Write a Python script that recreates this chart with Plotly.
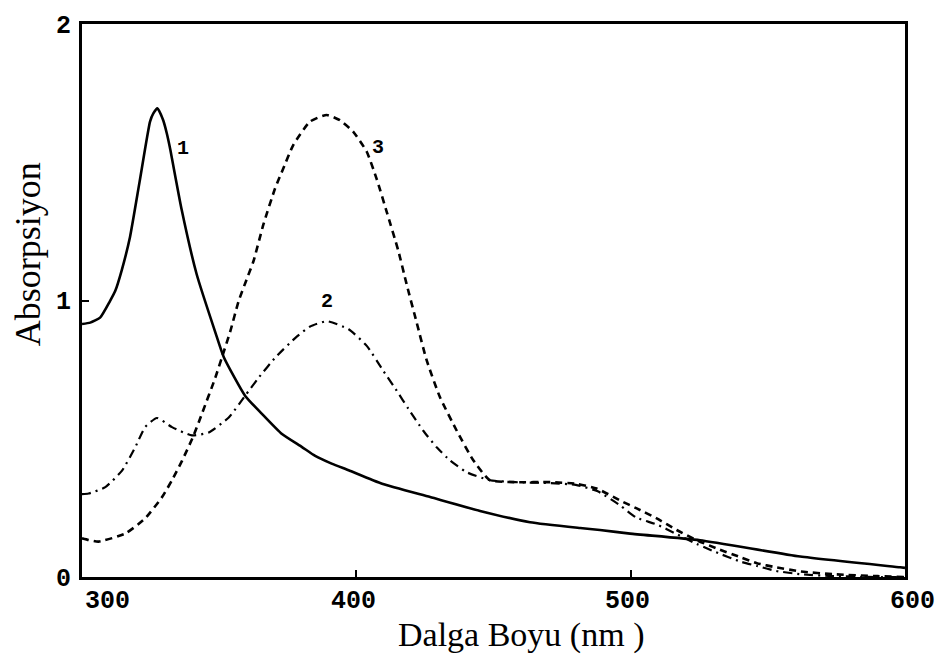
import plotly.graph_objects as go

# Curve 1 (solid)
wl1 = [300, 303, 306.6, 310.2, 312.1, 314.5, 317.5, 321, 324.8, 326, 327.5, 329.6, 330.9, 332,
       336.3, 341.8, 348.6, 351.7, 359.5, 365.6, 372.9, 380.2, 385, 391, 397.2, 409.4, 426.9,
       445.1, 463.3, 481.6, 488.8, 499.8, 525.3, 561.8, 598.2, 600]
ab1 = [0.915, 0.92, 0.938, 0.998, 1.034, 1.11, 1.23, 1.43, 1.647, 1.677, 1.695, 1.652, 1.605, 1.555,
       1.33, 1.095, 0.885, 0.795, 0.655, 0.59, 0.517, 0.47, 0.438, 0.41, 0.386, 0.337, 0.289,
       0.239, 0.198, 0.177, 0.17, 0.157, 0.133, 0.074, 0.035, 0.033]

# Curve 2 (dash-dot)
wl2 = [300, 302.4, 308.5, 314.6, 319.4, 323, 327.3, 332.8, 340.1, 346.2, 353.5, 359.5, 364.4,
       370.5, 377.8, 383, 389.3, 397.2, 403.8, 409.8, 414.7, 419, 424.4, 429.3, 434.2, 440.2,
       448.7, 458, 470, 480, 488, 496, 502, 509.5, 516.8, 524, 531, 540, 546, 553, 562, 574, 590, 600]
ab2 = [0.30, 0.302, 0.325, 0.385, 0.469, 0.542, 0.575, 0.542, 0.512, 0.523, 0.577, 0.656, 0.721,
       0.794, 0.865, 0.905, 0.925, 0.896, 0.836, 0.746, 0.674, 0.608, 0.529, 0.469, 0.421, 0.379,
       0.35, 0.343, 0.34, 0.333, 0.31, 0.26, 0.215, 0.19, 0.155, 0.12, 0.09, 0.056, 0.04, 0.022, 0.01, 0.003, 0.0, 0.0]

# Curve 3 (dashed)
wl3 = [300, 302.4, 306, 315.8, 323, 329.2, 332.8, 336.5, 340.7, 343.7, 348.6, 351, 354.1, 357.1,
       360, 362.5, 366.1, 370.4, 373.4, 377, 383.1, 389.2, 394, 398.9, 403.8, 407.4, 411.1, 415.3,
       418.3, 422, 425.6, 430.5, 436.6, 442.7, 448.7, 458.5, 470.6, 480.3, 487.6, 496.1, 502.2,
       509.5, 516.8, 524.1, 531.4, 539.9, 546, 553, 562, 574, 590, 600]
ab3 = [0.14, 0.134, 0.128, 0.157, 0.212, 0.289, 0.35, 0.421, 0.512, 0.59, 0.721, 0.794, 0.89, 0.998,
       1.076, 1.142, 1.274, 1.406, 1.478, 1.562, 1.647, 1.671, 1.652, 1.61, 1.538, 1.44, 1.32, 1.18,
       1.06, 0.92, 0.785, 0.65, 0.529, 0.421, 0.35, 0.343, 0.343, 0.337, 0.32, 0.277, 0.248,
       0.212, 0.17, 0.133, 0.103, 0.072, 0.05, 0.035, 0.02, 0.01, 0.003, 0.0]

x_ticks = [300, 400, 500, 600]
x_ticktext = ["300", "400", "500", "600"]
y_ticks = [0, 1, 2]
y_ticktext = ["0", "1", "2"]

curve_labels = ["1", "2", "3"]
label_x = [336.8, 389.3, 407.9]
label_y = [1.549, 0.996, 1.553]

# label offsets (styling only), in pixels along the x axis
x_label_shift = [25, -3, -3, 7]

fig = go.Figure()
fig.add_trace(go.Scatter(x=wl1, y=ab1, mode="lines",
                         line=dict(color="black", width=2.6, shape="spline", smoothing=0.5)))
fig.add_trace(go.Scatter(x=wl2, y=ab2, mode="lines",
                         line=dict(color="black", width=2.2, dash="9px,5px,2px,5px", shape="spline", smoothing=0.5)))
fig.add_trace(go.Scatter(x=wl3, y=ab3, mode="lines",
                         line=dict(color="black", width=2.6, dash="7px,5px", shape="spline", smoothing=0.5)))

for t, xx, yy in zip(curve_labels, label_x, label_y):
    fig.add_annotation(x=xx, y=yy, text=t, showarrow=False,
                       font=dict(family="Liberation Mono", size=20, color="black", weight="bold"))

tickfont = dict(family="Liberation Mono", size=25, color="black", weight="bold")

for v, t, s in zip(x_ticks, x_ticktext, x_label_shift):
    fig.add_annotation(x=v, y=0, text=t, showarrow=False, yanchor="top", xanchor="center",
                       xshift=s, yshift=-8, font=tickfont)

fig.update_xaxes(range=[300, 600], tickvals=x_ticks, showticklabels=False, ticks="inside",
                 ticklen=7, tickwidth=2, tickcolor="black", showline=True, linecolor="black",
                 linewidth=3, mirror=True, showgrid=False, zeroline=False)
fig.update_yaxes(range=[0, 2], tickvals=y_ticks, ticktext=y_ticktext, ticks="inside",
                 ticklen=7, tickwidth=2, tickcolor="black", showline=True, linecolor="black",
                 linewidth=3, mirror=True, showgrid=False, zeroline=False, tickfont=tickfont,
                 ticklabelstandoff=3)

fig.add_annotation(xref="paper", yref="paper", x=(521 - 82) / 823, y=-(635 - 577) / 555,
                   text="Dalga Boyu (nm )", showarrow=False, xanchor="center", yanchor="middle",
                   font=dict(family="Liberation Serif", size=34, color="black"))
fig.add_annotation(xref="paper", yref="paper", x=-(82 - 28) / 823, y=(577 - 253) / 555,
                   text="Absorpsiyon", showarrow=False, textangle=-90,
                   xanchor="center", yanchor="middle",
                   font=dict(family="Liberation Serif", size=36, color="black"))

fig.update_layout(width=950, height=655, showlegend=False,
                  margin=dict(l=82, r=45, t=22, b=78),
                  paper_bgcolor="white", plot_bgcolor="white")

fig.write_html("out.html")
